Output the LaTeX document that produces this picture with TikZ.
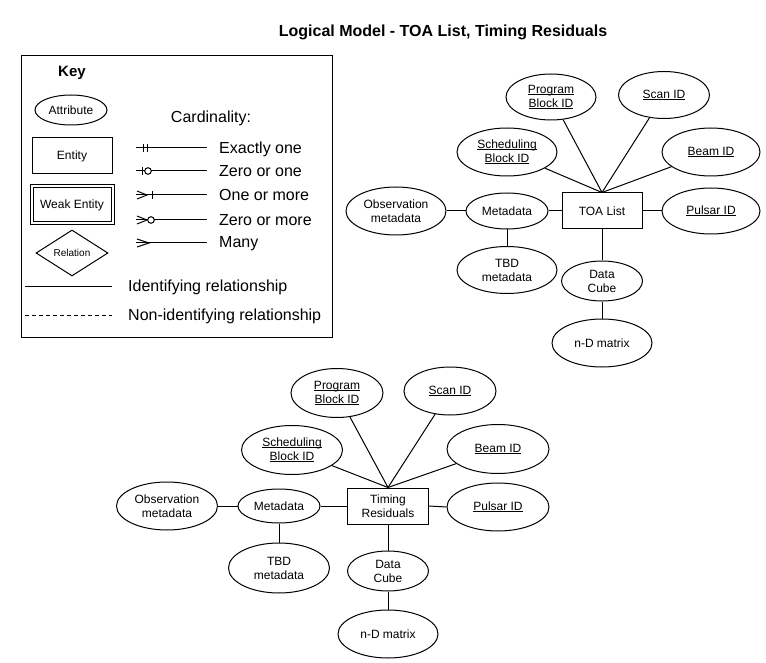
\documentclass[tikz,border=0pt]{standalone}
\usepackage{fontspec}
\setmainfont{Liberation Sans}
\usetikzlibrary{shapes.geometric}
\tikzset{
  attr/.style={draw, ellipse, inner sep=0pt, align=center, font=\fontsize{12}{14}\selectfont, line width=1pt},
  ent/.style={draw, rectangle, inner sep=0pt, align=center, font=\fontsize{12}{14}\selectfont, line width=1pt},
  conn/.style={line width=1pt},
  keytext/.style={anchor=base west, inner sep=0pt, font=\fontsize{16}{19}\selectfont},
}
\newcommand{\ul}[1]{\setbox0\hbox{#1}\rlap{\rule[-1.6pt]{\wd0}{0.8pt}}\box0}
\begin{document}
\begin{tikzpicture}[x=1pt,y=-1pt]
\useasboundingbox (0,0) rectangle (766,663);
\node[font=\fontsize{16}{19}\selectfont\bfseries] (title) at (443,32) {Logical Model - TOA List, Timing Residuals};

% ---------- Key ----------
\draw[line width=1pt] (21,56) rectangle (332,337);
\node[font=\fontsize{15}{18}\selectfont\bfseries] (keyt) at (72,73) {Key};
\node[attr, minimum width=72pt, minimum height=30pt] (kattr) at (71,110) {Attribute};
\node[ent, minimum width=80pt, minimum height=36pt] (kent) at (72,156) {Entity};
\node[ent, double, double distance=2pt, minimum width=81pt, minimum height=37pt] (kweak) at (72,205) {Weak Entity};
\node[draw, diamond, inner sep=0pt, line width=1pt, minimum width=72pt, minimum height=46pt, font=\fontsize{10}{12}\selectfont] (krel) at (72,253) {Relation};
\node[font=\fontsize{16}{19}\selectfont] (card) at (211,118) {Cardinality:};

% exactly one
\coordinate (c1a) at (136,148); \coordinate (c1b) at (207,148);
\draw[conn] (c1a) -- (c1b);
\draw[conn] (143.5,144) -- (143.5,152) (147.5,144) -- (147.5,152);
\node[keytext] (l1) at (219,153.7) {Exactly one};
% zero or one
\coordinate (c2a) at (136,171); \coordinate (c2b) at (207,171);
\draw[conn] (c2a) -- (c2b);
\draw[conn] (142,167) -- (142,175);
\draw[conn, fill=white] (148,171) circle (3.3);
\node[keytext] (l2) at (219,176.7) {Zero or one};
% one or more
\coordinate (c3a) at (136,195); \coordinate (c3b) at (207,195);
\draw[conn] (c3a) -- (c3b);
\draw[conn] (137,191) -- (147,195) -- (137,199);
\draw[conn] (152,191) -- (152,199);
\node[keytext] (l3) at (219,200.7) {One or more};
% zero or more
\coordinate (c4a) at (136,220); \coordinate (c4b) at (207,220);
\draw[conn] (c4a) -- (c4b);
\draw[conn] (137,216) -- (147,220) -- (137,224);
\draw[conn, fill=white] (151,220) circle (3.3);
\node[keytext] (l4) at (219,225.7) {Zero or more};
% many
\coordinate (c5a) at (136,243); \coordinate (c5b) at (207,243);
\draw[conn] (c5a) -- (c5b);
\draw[conn] (137,239) -- (149,243) -- (137,247);
\node[keytext] (l5) at (219,248) {Many};

\coordinate (ida) at (25,286); \coordinate (idb) at (112,286);
\draw[conn] (ida) -- (idb);
\node[keytext] (l6) at (128,291.7) {Identifying relationship};
\coordinate (nia) at (25,315); \coordinate (nib) at (112,315);
\draw[conn, dash pattern=on 3.5pt off 3.5pt] (nia) -- (nib);
\node[keytext] (l7) at (128,320.7) {Non-identifying relationship};

% ---------- TOA List ----------
\node[ent, minimum width=80pt, minimum height=36pt] (toa) at (602,211) {TOA List};
\node[attr, minimum width=98pt, minimum height=46pt] (tpulsar) at (711,211) {\ul{Pulsar ID}};
\node[attr, minimum width=98pt, minimum height=48pt] (tbeam) at (711,152) {\ul{Beam ID}};
\node[attr, minimum width=91pt, minimum height=47pt] (tscan) at (664,95) {\ul{Scan ID}};
\node[attr, minimum width=90pt, minimum height=46pt] (tprog) at (551,97) {\ul{Program}\\\ul{Block ID}};
\node[attr, minimum width=100pt, minimum height=48pt] (tsched) at (507,152) {\ul{Scheduling}\\\ul{Block ID}};
\node[attr, minimum width=82pt, minimum height=36pt] (tmeta) at (507,211) {Metadata};
\node[attr, minimum width=100pt, minimum height=48pt] (tobs) at (396,211) {Observation\\metadata};
\node[attr, minimum width=100pt, minimum height=47pt] (ttbd) at (507,270) {TBD\\metadata};
\node[attr, minimum width=81pt, minimum height=40pt] (tcube) at (602,281) {Data\\Cube};
\node[attr, minimum width=100pt, minimum height=48pt] (tmat) at (602,343) {n-D matrix};

\draw[conn] (tprog) -- (toa.north);
\draw[conn] (tscan) -- (toa.north);
\draw[conn] (tsched) -- (toa.north);
\draw[conn] (tbeam) -- (toa.north);
\draw[conn] (toa.east) -- (tpulsar.west);
\draw[conn] (tmeta.east) -- (toa.west);
\draw[conn] (tobs.east) -- (tmeta.west);
\draw[conn] (tmeta.south) -- (ttbd.north);
\draw[conn] (toa.south) -- (tcube.north);
\draw[conn] (tcube.south) -- (tmat.north);

% ---------- Timing Residuals ----------
\node[ent, minimum width=81pt, minimum height=36pt] (tr) at (388,506) {Timing\\Residuals};
\node[attr, minimum width=102pt, minimum height=48pt] (rpulsar) at (498,507) {\ul{Pulsar ID}};
\node[attr, minimum width=102pt, minimum height=49pt] (rbeam) at (498,449) {\ul{Beam ID}};
\node[attr, minimum width=92pt, minimum height=48pt] (rscan) at (450,391) {\ul{Scan ID}};
\node[attr, minimum width=92pt, minimum height=49pt] (rprog) at (337,393) {\ul{Program}\\\ul{Block ID}};
\node[attr, minimum width=101pt, minimum height=49pt] (rsched) at (292,450) {\ul{Scheduling}\\\ul{Block ID}};
\node[attr, minimum width=82pt, minimum height=34pt] (rmeta) at (279,506) {Metadata};
\node[attr, minimum width=101pt, minimum height=48pt] (robs) at (167,506) {Observation\\metadata};
\node[attr, minimum width=101pt, minimum height=50pt] (rtbd) at (279,568) {TBD\\metadata};
\node[attr, minimum width=81pt, minimum height=40pt] (rcube) at (388,571) {Data\\Cube};
\node[attr, minimum width=100pt, minimum height=48pt] (rmat) at (388,634) {n-D matrix};

\draw[conn] (rprog) -- (tr.north);
\draw[conn] (rscan) -- (tr.north);
\draw[conn] (rsched) -- (tr.north);
\draw[conn] (rbeam) -- (tr.north);
\draw[conn] (tr.east) -- (rpulsar.west);
\draw[conn] (rmeta.east) -- (tr.west);
\draw[conn] (robs.east) -- (rmeta.west);
\draw[conn] (rmeta.south) -- (rtbd.north);
\draw[conn] (tr.south) -- (rcube.north);
\draw[conn] (rcube.south) -- (rmat.north);
\end{tikzpicture}
\end{document}
